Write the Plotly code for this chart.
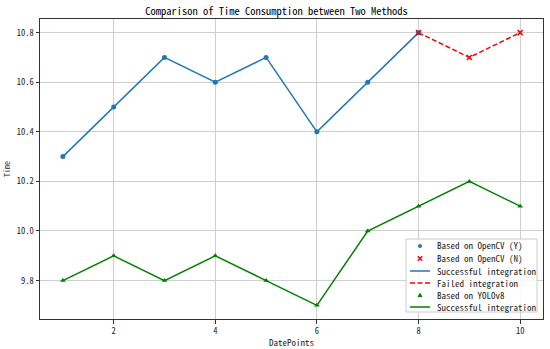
import plotly.graph_objects as go

x_cv_y = [1, 2, 3, 4, 5, 6, 7, 8]
t_cv_y = [10.3, 10.5, 10.7, 10.6, 10.7, 10.4, 10.6, 10.8]
x_cv_n = [8, 9, 10]
t_cv_n = [10.8, 10.7, 10.8]
x_yolo = [1, 2, 3, 4, 5, 6, 7, 8, 9, 10]
t_yolo = [9.8, 9.9, 9.8, 9.9, 9.8, 9.7, 10.0, 10.1, 10.2, 10.1]
x_ticks = [2, 4, 6, 8, 10]
y_ticks = [9.8, 10.0, 10.2, 10.4, 10.6, 10.8]
legend_labels = ["Based on OpenCV (Y)", "Based on OpenCV (N)", "Successful integration",
                 "Failed integration", "Based on YOLOv8", "Successful integration"]

FONT = "Noto Sans Mono CJK SC, DejaVu Sans Mono, monospace"
BLUE, RED, GREEN = "#1f77b4", "red", "green"
DASH = "5px,2.5px"
W, H = 550, 349
L, R, T, B = 40, 7, 19, 30
PW, PH = W - L - R, H - T - B

fig = go.Figure()
fig.add_trace(go.Scatter(x=x_cv_y, y=t_cv_y, mode="lines", name=legend_labels[2],
                         line=dict(color=BLUE, width=1.5)))
fig.add_trace(go.Scatter(x=x_cv_n, y=t_cv_n, mode="lines", name=legend_labels[3],
                         line=dict(color=RED, width=1.5, dash=DASH)))
fig.add_trace(go.Scatter(x=x_yolo, y=t_yolo, mode="lines", name=legend_labels[5],
                         line=dict(color=GREEN, width=1.5)))
fig.add_trace(go.Scatter(x=x_cv_y, y=t_cv_y, mode="markers", name=legend_labels[0],
                         marker=dict(color=BLUE, size=5, symbol="circle")))
fig.add_trace(go.Scatter(x=x_cv_n, y=t_cv_n, mode="markers", name=legend_labels[1],
                         marker=dict(color=RED, size=5, symbol="x-thin", line=dict(color=RED, width=1.5))))
fig.add_trace(go.Scatter(x=x_yolo, y=t_yolo, mode="markers", name=legend_labels[4],
                         marker=dict(color=GREEN, size=5, symbol="triangle-up")))


def px(xp):
    return (xp - L) / PW


def py(yp):
    return (H - B - yp) / PH


# Manual compact legend (matplotlib-style)
shapes = []
annotations = []
shapes.append(dict(type="rect", xref="paper", yref="paper", x0=px(406), x1=px(537), y0=py(312), y1=py(239),
                   line=dict(color="#cccccc", width=1), fillcolor="rgba(255,255,255,0.85)", layer="above"))
row_y = [246, 258.5, 271, 283, 295, 307]
hx0, hx1, hm, tx = 410, 430, 420, 435
for i, lab in enumerate(legend_labels):
    yy = py(row_y[i])
    annotations.append(dict(text=lab, xref="paper", yref="paper", x=px(tx), y=yy, xanchor="left",
                            yanchor="middle", showarrow=False, font=dict(family=FONT, size=9, color="#222")))
shapes.append(dict(type="circle", xref="paper", yref="paper", xsizemode="pixel", ysizemode="pixel",
                   xanchor=px(hm), yanchor=py(row_y[0]), x0=-2, x1=2, y0=-2, y1=2,
                   fillcolor=BLUE, line=dict(color=BLUE, width=0), layer="above"))
for a, b in [((-2.2, -2.2), (2.2, 2.2)), ((-2.2, 2.2), (2.2, -2.2))]:
    shapes.append(dict(type="line", xref="paper", yref="paper", xsizemode="pixel", ysizemode="pixel",
                       xanchor=px(hm), yanchor=py(row_y[1]), x0=a[0], y0=a[1], x1=b[0], y1=b[1],
                       line=dict(color=RED, width=1.5), layer="above"))
shapes.append(dict(type="line", xref="paper", yref="paper", x0=px(hx0), x1=px(hx1), y0=py(row_y[2]), y1=py(row_y[2]),
                   line=dict(color=BLUE, width=1.5), layer="above"))
shapes.append(dict(type="line", xref="paper", yref="paper", x0=px(hx0), x1=px(hx1), y0=py(row_y[3]), y1=py(row_y[3]),
                   line=dict(color=RED, width=1.5, dash=DASH), layer="above"))
shapes.append(dict(type="path", xref="paper", yref="paper", xsizemode="pixel", ysizemode="pixel",
                   xanchor=px(hm), yanchor=py(row_y[4]), path="M -2.5,-2 L 2.5,-2 L 0,2.5 Z",
                   fillcolor=GREEN, line=dict(color=GREEN, width=0), layer="above"))
shapes.append(dict(type="line", xref="paper", yref="paper", x0=px(hx0), x1=px(hx1), y0=py(row_y[5]), y1=py(row_y[5]),
                   line=dict(color=GREEN, width=1.5), layer="above"))

fig.update_layout(
    width=W, height=H,
    margin=dict(l=L, r=R, t=T, b=B, autoexpand=False),
    plot_bgcolor="white", paper_bgcolor="white",
    font=dict(family=FONT, size=8.5, color="#222"),
    title=dict(text="Comparison of Time Consumption between Two Methods",
               x=276.5 / W, xanchor="center", y=1 - 11 / H, yanchor="middle",
               font=dict(family=FONT, size=10.5, color="#000")),
    showlegend=False,
    shapes=shapes, annotations=annotations,
)
fig.update_xaxes(range=[0.55, 10.45], tickvals=x_ticks, ticktext=[str(v) for v in x_ticks],
                 showgrid=True, gridcolor="#cfcfcf", gridwidth=1, automargin=False,
                 showline=True, linecolor="#333", linewidth=1, mirror=True,
                 ticks="outside", ticklen=3.5, tickcolor="#333", zeroline=False,
                 title=dict(text="DatePoints", standoff=4, font=dict(family=FONT, size=9)))
fig.update_yaxes(range=[9.645, 10.855], tickvals=y_ticks, ticktext=[f"{v:.1f}" for v in y_ticks],
                 showgrid=True, gridcolor="#cfcfcf", gridwidth=1, automargin=False,
                 showline=True, linecolor="#333", linewidth=1, mirror=True,
                 ticks="outside", ticklen=3.5, tickcolor="#333", zeroline=False,
                 title=dict(text="Time", standoff=4, font=dict(family=FONT, size=8)))
fig.write_html("out.html", config={"displayModeBar": False},
               post_script="document.body.style.margin='0';document.body.style.padding='0';document.body.style.overflow='hidden';")
